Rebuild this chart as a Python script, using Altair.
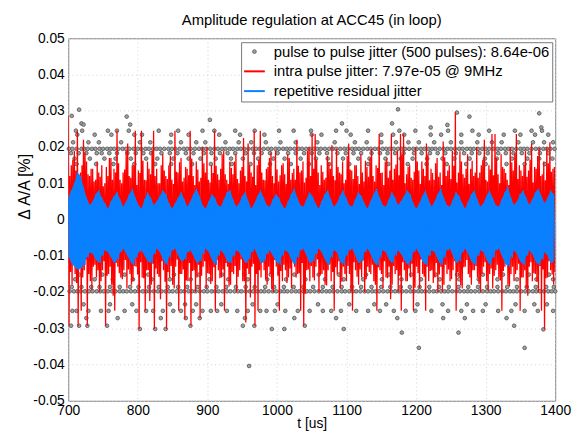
import altair as alt
import numpy as np
import pandas as pd

TITLE = "Amplitude regulation at ACC45 (in loop)"
S_PULSE = "pulse to pulse jitter (500 pulses): 8.64e-06"
S_INTRA = "intra pulse jitter: 7.97e-05 @ 9MHz"
S_REP = "repetitive residual jitter"
SERIES = [S_PULSE, S_INTRA, S_REP]
COLORS = ["#505050", "#ff0000", "#0a80ff"]
SHAPES = ["circle", "stroke", "stroke"]
SIZES = [14, 441, 441]
WIDTHS = [0.8, 2, 2]

x_ticks = [700, 800, 900, 1000, 1100, 1200, 1300, 1400]
y_ticks = [-0.05, -0.04, -0.03, -0.02, -0.01, 0, 0.01, 0.02, 0.03, 0.04, 0.05]

# intra pulse jitter: alternating upper / lower excursions (in %), two interleaved sample sets
red_hi = [
    0.0286, 0.0150, 0.0190, 0.0245, 0.0130, 0.0220, 0.0160, 0.0120, 0.0140, 0.0110,
    0.0130, 0.0150, 0.0100, 0.0120, 0.0170, 0.0140, 0.0245, 0.0110, 0.0130, 0.0190,
    0.0120, 0.0150, 0.0245, 0.0135, 0.0245, 0.0110, 0.0160, 0.0125, 0.0245, 0.0140,
    0.0100, 0.0180, 0.0120, 0.0150, 0.0110, 0.0245, 0.0130, 0.0170, 0.0115, 0.0140,
    0.0245, 0.0120, 0.0160, 0.0105, 0.0200, 0.0130, 0.0110, 0.0150, 0.0245, 0.0125,
    0.0140, 0.0190, 0.0110, 0.0160, 0.0125, 0.0180, 0.0100, 0.0145, 0.0120, 0.0210,
    0.0130, 0.0245, 0.0150, 0.0245, 0.0110, 0.0140, 0.0170, 0.0120, 0.0190, 0.0105,
    0.0150, 0.0125, 0.0180, 0.0110, 0.0140, 0.0220, 0.0130, 0.0160, 0.0115, 0.0200,
    0.0236, 0.0236, 0.0130, 0.0150, 0.0110, 0.0175, 0.0140, 0.0120, 0.0195, 0.0130,
    0.0160, 0.0110, 0.0210, 0.0135, 0.0150, 0.0120, 0.0180, 0.0105, 0.0145, 0.0170,
    0.0120, 0.0150, 0.0236, 0.0130, 0.0160, 0.0115, 0.0236, 0.0140, 0.0190, 0.0236,
    0.0236, 0.0125, 0.0150, 0.0110, 0.0200, 0.0135, 0.0160, 0.0120, 0.0180, 0.0140,
    0.0110, 0.0170, 0.0130, 0.0215, 0.0120, 0.0150, 0.0190, 0.0295, 0.0130, 0.0160,
    0.0115, 0.0180, 0.0140, 0.0120, 0.0200, 0.0130, 0.0165, 0.0110, 0.0150, 0.0236,
    0.0236, 0.0125, 0.0180, 0.0140, 0.0110, 0.0200, 0.0135, 0.0236, 0.0150, 0.0120,
    0.0190, 0.0135, 0.0210, 0.0145, 0.0175, 0.0120, 0.0160, 0.0200, 0.0213, 0.0140,
]
red_lo = [
    -0.0293, -0.0180, -0.0150, -0.0293, -0.0252, -0.0140, -0.0293, -0.0170, -0.0130, -0.0160,
    -0.0200, -0.0140, -0.0293, -0.0150, -0.0180, -0.0252, -0.0130, -0.0160, -0.0140, -0.0190,
    -0.0150, -0.0170, -0.0130, -0.0302, -0.0160, -0.0252, -0.0140, -0.0180, -0.0302, -0.0150,
    -0.0220, -0.0140, -0.0302, -0.0160, -0.0180, -0.0130, -0.0252, -0.0150, -0.0275, -0.0170,
    -0.0293, -0.0140, -0.0160, -0.0272, -0.0130, -0.0190, -0.0150, -0.0170, -0.0252, -0.0140,
    -0.0160, -0.0252, -0.0130, -0.0180, -0.0150, -0.0200, -0.0140, -0.0170, -0.0284, -0.0150,
    -0.0130, -0.0293, -0.0252, -0.0160, -0.0140, -0.0180, -0.0150, -0.0200, -0.0130, -0.0252,
    -0.0170, -0.0140, -0.0160, -0.0190, -0.0130, -0.0150, -0.0252, -0.0293, -0.0140, -0.0170,
    -0.0160, -0.0130, -0.0200, -0.0150, -0.0180, -0.0140, -0.0170, -0.0252, -0.0150, -0.0190,
    -0.0130, -0.0170, -0.0150, -0.0252, -0.0140, -0.0180, -0.0160, -0.0200, -0.0130, -0.0150,
    -0.0170, -0.0252, -0.0140, -0.0190, -0.0160, -0.0130, -0.0180, -0.0150, -0.0200, -0.0252,
    -0.0140, -0.0170, -0.0160, -0.0252, -0.0130, -0.0190, -0.0150, -0.0252, -0.0170, -0.0140,
    -0.0160, -0.0200, -0.0130, -0.0180, -0.0150, -0.0170, -0.0140, -0.0252, -0.0160, -0.0190,
    -0.0130, -0.0150, -0.0180, -0.0140, -0.0160, -0.0200, -0.0130, -0.0170, -0.0150, -0.0190,
    -0.0140, -0.0160, -0.0252, -0.0130, -0.0180, -0.0150, -0.0170, -0.0140, -0.0252, -0.0160,
    -0.0190, -0.0130, -0.0170, -0.0150, -0.0200, -0.0252, -0.0303, -0.0160, -0.0140, -0.0180,
]
red2_hi = [
    0.0120, 0.0165, 0.0135, 0.0098, 0.0150, 0.0185, 0.0125, 0.0140, 0.0105, 0.0160,
    0.0118, 0.0092, 0.0145, 0.0170, 0.0110, 0.0130, 0.0155, 0.0100, 0.0138, 0.0210,
    0.0115, 0.0148, 0.0095, 0.0128, 0.0162, 0.0108, 0.0140, 0.0190, 0.0120, 0.0100,
    0.0150, 0.0135, 0.0112, 0.0175, 0.0098, 0.0132, 0.0158, 0.0105, 0.0145, 0.0122,
    0.0168, 0.0095, 0.0138, 0.0115, 0.0155, 0.0200, 0.0102, 0.0128, 0.0148, 0.0110,
    0.0180, 0.0125, 0.0098, 0.0142, 0.0160, 0.0112, 0.0135, 0.0225, 0.0105, 0.0150,
    0.0118, 0.0095, 0.0165, 0.0130, 0.0108, 0.0145, 0.0185, 0.0100, 0.0138, 0.0122,
    0.0155, 0.0098, 0.0170, 0.0128, 0.0110, 0.0148, 0.0135, 0.0102, 0.0190, 0.0120,
    0.0140, 0.0165, 0.0095, 0.0132, 0.0115, 0.0158, 0.0205, 0.0108, 0.0145, 0.0125,
    0.0100, 0.0175, 0.0138, 0.0112, 0.0150, 0.0098, 0.0130, 0.0162, 0.0118, 0.0195,
    0.0105, 0.0142, 0.0128, 0.0095, 0.0168, 0.0135, 0.0110, 0.0152, 0.0122, 0.0180,
    0.0100, 0.0145, 0.0115, 0.0132, 0.0160, 0.0098, 0.0140, 0.0210, 0.0108, 0.0128,
    0.0155, 0.0118, 0.0095, 0.0172, 0.0135, 0.0112, 0.0148, 0.0102, 0.0188, 0.0125,
    0.0140, 0.0098, 0.0162, 0.0130, 0.0115, 0.0150, 0.0220, 0.0105, 0.0138, 0.0122,
    0.0170, 0.0100, 0.0145, 0.0128, 0.0095, 0.0158, 0.0182, 0.0112, 0.0135, 0.0150,
    0.0118, 0.0165, 0.0102, 0.0140, 0.0198, 0.0125, 0.0108, 0.0155, 0.0132, 0.0145,
]
red2_lo = [
    -0.0145, -0.0118, -0.0175, -0.0132, -0.0160, -0.0110, -0.0150, -0.0195, -0.0125, -0.0140,
    -0.0170, -0.0115, -0.0155, -0.0130, -0.0210, -0.0120, -0.0148, -0.0165, -0.0112, -0.0138,
    -0.0180, -0.0128, -0.0152, -0.0118, -0.0162, -0.0140, -0.0225, -0.0122, -0.0135, -0.0158,
    -0.0115, -0.0172, -0.0145, -0.0128, -0.0190, -0.0110, -0.0150, -0.0138, -0.0168, -0.0120,
    -0.0142, -0.0200, -0.0125, -0.0155, -0.0115, -0.0148, -0.0178, -0.0132, -0.0112, -0.0162,
    -0.0138, -0.0120, -0.0185, -0.0145, -0.0128, -0.0158, -0.0110, -0.0170, -0.0135, -0.0215,
    -0.0122, -0.0150, -0.0140, -0.0118, -0.0165, -0.0130, -0.0192, -0.0112, -0.0155, -0.0142,
    -0.0125, -0.0175, -0.0135, -0.0115, -0.0160, -0.0148, -0.0120, -0.0205, -0.0138, -0.0128,
    -0.0168, -0.0110, -0.0152, -0.0140, -0.0182, -0.0122, -0.0145, -0.0132, -0.0115, -0.0172,
    -0.0150, -0.0128, -0.0198, -0.0118, -0.0158, -0.0138, -0.0112, -0.0165, -0.0145, -0.0125,
    -0.0180, -0.0132, -0.0150, -0.0115, -0.0162, -0.0220, -0.0128, -0.0140, -0.0155, -0.0118,
    -0.0170, -0.0135, -0.0122, -0.0188, -0.0148, -0.0110, -0.0158, -0.0130, -0.0142, -0.0175,
    -0.0120, -0.0152, -0.0200, -0.0125, -0.0138, -0.0165, -0.0115, -0.0145, -0.0182, -0.0132,
    -0.0112, -0.0160, -0.0140, -0.0128, -0.0178, -0.0150, -0.0118, -0.0195, -0.0135, -0.0155,
    -0.0125, -0.0168, -0.0142, -0.0110, -0.0185, -0.0130, -0.0150, -0.0122, -0.0160, -0.0140,
    -0.0210, -0.0118, -0.0148, -0.0172, -0.0128, -0.0138, -0.0162, -0.0115, -0.0152, -0.0145,
]

# repetitive residual jitter: alternating upper / lower excursions (in %)
blue_hi = [
    0.0060, 0.0080, 0.0100, 0.0131, 0.0120, 0.0090, 0.0060, 0.0040, 0.0050, 0.0070,
    0.0080, 0.0060, 0.0045, 0.0030, 0.0050, 0.0065, 0.0075, 0.0055, 0.0035, 0.0050,
    0.0070, 0.0085, 0.0060, 0.0040, 0.0030, 0.0055, 0.0075, 0.0060, 0.0040, 0.0050,
    0.0065, 0.0080, 0.0070, 0.0045, 0.0030, 0.0045, 0.0060, 0.0075, 0.0055, 0.0035,
    0.0050, 0.0070, 0.0085, 0.0065, 0.0040, 0.0030, 0.0050, 0.0070, 0.0060, 0.0040,
    0.0035, 0.0055, 0.0075, 0.0080, 0.0055, 0.0035, 0.0045, 0.0065, 0.0075, 0.0050,
    0.0030, 0.0045, 0.0065, 0.0080, 0.0060, 0.0040, 0.0035, 0.0055, 0.0070, 0.0060,
    0.0040, 0.0030, 0.0050, 0.0070, 0.0085, 0.0060, 0.0040, 0.0035, 0.0055, 0.0075,
    0.0065, 0.0045, 0.0030, 0.0050, 0.0070, 0.0080, 0.0055, 0.0035, 0.0045, 0.0065,
    0.0080, 0.0060, 0.0040, 0.0035, 0.0055, 0.0075, 0.0065, 0.0045, 0.0030, 0.0050,
    0.0070, 0.0085, 0.0060, 0.0040, 0.0035, 0.0055, 0.0075, 0.0060, 0.0040, 0.0050,
    0.0065, 0.0080, 0.0070, 0.0045, 0.0030, 0.0045, 0.0065, 0.0080, 0.0055, 0.0035,
    0.0050, 0.0070, 0.0085, 0.0060, 0.0040, 0.0035, 0.0055, 0.0075, 0.0065, 0.0045,
    0.0030, 0.0050, 0.0070, 0.0080, 0.0055, 0.0035, 0.0045, 0.0065, 0.0080, 0.0060,
    0.0040, 0.0035, 0.0055, 0.0075, 0.0090, 0.0060, 0.0040, 0.0050, 0.0070, 0.0080,
    0.0060, 0.0040, 0.0055, 0.0075, 0.0085, 0.0065, 0.0045, 0.0060, 0.0080, 0.0070,
]
blue_lo = [
    -0.0100, -0.0120, -0.0130, -0.0138, -0.0135, -0.0125, -0.0105, -0.0090, -0.0095, -0.0110,
    -0.0120, -0.0100, -0.0085, -0.0090, -0.0105, -0.0120, -0.0110, -0.0090, -0.0080, -0.0095,
    -0.0110, -0.0125, -0.0105, -0.0090, -0.0085, -0.0100, -0.0115, -0.0120, -0.0095, -0.0080,
    -0.0090, -0.0110, -0.0125, -0.0105, -0.0085, -0.0080, -0.0100, -0.0115, -0.0110, -0.0090,
    -0.0085, -0.0100, -0.0120, -0.0115, -0.0095, -0.0080, -0.0090, -0.0110, -0.0125, -0.0100,
    -0.0085, -0.0095, -0.0115, -0.0120, -0.0100, -0.0085, -0.0090, -0.0105, -0.0120, -0.0110,
    -0.0090, -0.0080, -0.0100, -0.0120, -0.0115, -0.0095, -0.0085, -0.0100, -0.0115, -0.0125,
    -0.0100, -0.0085, -0.0090, -0.0110, -0.0125, -0.0105, -0.0085, -0.0080, -0.0100, -0.0120,
    -0.0115, -0.0095, -0.0080, -0.0090, -0.0110, -0.0125, -0.0105, -0.0085, -0.0090, -0.0115,
    -0.0125, -0.0100, -0.0085, -0.0080, -0.0100, -0.0120, -0.0115, -0.0090, -0.0080, -0.0095,
    -0.0115, -0.0126, -0.0105, -0.0085, -0.0090, -0.0110, -0.0120, -0.0100, -0.0085, -0.0095,
    -0.0110, -0.0125, -0.0115, -0.0090, -0.0080, -0.0095, -0.0115, -0.0125, -0.0100, -0.0085,
    -0.0090, -0.0110, -0.0125, -0.0105, -0.0085, -0.0080, -0.0100, -0.0120, -0.0115, -0.0090,
    -0.0080, -0.0095, -0.0115, -0.0125, -0.0100, -0.0085, -0.0090, -0.0110, -0.0125, -0.0105,
    -0.0085, -0.0080, -0.0100, -0.0120, -0.0130, -0.0105, -0.0085, -0.0095, -0.0115, -0.0125,
    -0.0100, -0.0085, -0.0095, -0.0115, -0.0125, -0.0110, -0.0090, -0.0100, -0.0120, -0.0115,
]

# pulse to pulse jitter: quantised levels (in %) and the times [us] of the dots on them
lvl_u195 = 0.0195
t_u195 = [701, 706, 712, 719, 723, 728, 734, 739, 745, 750, 756, 761, 766, 772, 778, 783, 788, 794,
          800, 805, 811, 816, 822, 827, 832, 838, 844, 849, 854, 860, 866, 871, 876, 882, 888, 893,
          898, 904, 910, 915, 921, 926, 932, 937, 943, 948, 953, 959, 965, 970, 975, 981, 987, 992,
          998, 1003, 1009, 1014, 1019, 1025, 1031, 1036, 1042, 1047, 1053, 1058, 1063, 1069, 1075,
          1080, 1085, 1091, 1097, 1102, 1108, 1113, 1118, 1124, 1130, 1135, 1141, 1146, 1152, 1157,
          1162, 1168, 1174, 1179, 1184, 1190, 1196, 1201, 1207, 1212, 1218, 1223, 1228, 1234, 1240,
          1245, 1250, 1256, 1262, 1267, 1273, 1278, 1283, 1289, 1295, 1300, 1305, 1311, 1317, 1322,
          1328, 1333, 1338, 1344, 1350, 1355, 1360, 1366, 1372, 1377, 1383, 1388, 1393, 1399]
lvl_u183 = 0.0183
t_u183 = [704, 715, 726, 741, 748, 759, 770, 785, 797, 808, 819, 834, 846, 857, 869, 880, 895, 906,
          918, 929, 940, 955, 967, 978, 990, 1001, 1016, 1027, 1039, 1050, 1061, 1072, 1087, 1099,
          1110, 1121, 1136, 1148, 1159, 1170, 1182, 1197, 1208, 1220, 1231, 1242, 1257, 1269, 1280,
          1291, 1303, 1318, 1329, 1340, 1352, 1363, 1378, 1390]
lvl_u168 = 0.0168
t_u168 = [709, 731, 752, 768, 790, 812, 828, 851, 873, 890, 912, 934, 951, 973, 995, 1011, 1034,
          1056, 1073, 1095, 1117, 1133, 1156, 1178, 1195, 1216, 1238, 1255, 1277, 1299, 1316, 1338,
          1360, 1377, 1396]
lvl_u153 = 0.0153
t_u153 = [712, 740, 765, 795, 825, 848, 878, 905, 935, 962, 990, 1020, 1046, 1075, 1104, 1131,
          1160, 1188, 1215, 1244, 1272, 1300, 1330, 1356, 1385]
lvl_u213 = 0.0213
t_u213 = [707, 729, 744, 776, 803, 818, 847, 862, 884, 897, 926, 945, 963, 984, 1005, 1027, 1058,
          1083, 1112, 1129, 1150, 1171, 1189, 1204, 1226, 1250, 1265, 1288, 1309, 1323, 1347, 1368,
          1384, 1397]
lvl_u234 = 0.0234
t_u234 = [713, 738, 762, 795, 806, 848, 873, 917, 947, 982, 1050, 1064, 1106, 1150, 1167, 1183,
          1221, 1236, 1265, 1290, 1326, 1350, 1371, 1390]
lvl_u245 = 0.0245
t_u245 = [711, 720, 757, 770, 787, 830, 858, 893, 910, 940, 968, 1003, 1024, 1049, 1085, 1100,
          1131, 1176, 1199, 1246, 1281, 1305, 1342, 1366, 1381]
lvl_l152 = -0.0152
t_l152 = [716, 749, 781, 815, 852, 888, 921, 953, 991, 1025, 1060, 1089, 1128, 1161, 1193, 1228,
          1259, 1296, 1325, 1362, 1391]
lvl_l165 = -0.0165
t_l165 = [710, 738, 764, 793, 820, 846, 876, 903, 930, 958, 986, 1013, 1041, 1069, 1096, 1124,
          1151, 1179, 1207, 1234, 1262, 1290, 1317, 1345, 1373, 1397]
lvl_l186 = -0.0186
t_l186 = [705, 719, 733, 745, 760, 774, 789, 801, 816, 830, 843, 858, 871, 886, 899, 913, 927, 941,
          955, 968, 983, 996, 1010, 1024, 1038, 1052, 1066, 1080, 1093, 1108, 1121, 1136, 1150, 1163,
          1178, 1191, 1205, 1219, 1233, 1247, 1261, 1275, 1289, 1302, 1317, 1331, 1345, 1359, 1372,
          1387, 1398]
lvl_l198 = -0.0198
t_l198 = [702, 708, 713, 718, 724, 730, 735, 741, 746, 751, 757, 763, 768, 774, 779, 784, 790, 796,
          801, 807, 812, 817, 823, 829, 834, 840, 845, 850, 856, 862, 867, 873, 878, 883, 889, 895,
          900, 906, 911, 916, 922, 928, 933, 939, 944, 949, 955, 961, 966, 972, 977, 982, 988, 994,
          999, 1005, 1010, 1015, 1021, 1027, 1032, 1038, 1043, 1048, 1054, 1060, 1065, 1071, 1076,
          1081, 1087, 1093, 1098, 1104, 1109, 1114, 1120, 1126, 1131, 1137, 1142, 1147, 1153, 1159,
          1164, 1170, 1175, 1180, 1186, 1192, 1197, 1203, 1208, 1213, 1219, 1225, 1230, 1236, 1241,
          1246, 1252, 1258, 1263, 1269, 1274, 1279, 1285, 1291, 1296, 1302, 1307, 1312, 1318, 1324,
          1329, 1335, 1340, 1345, 1351, 1357, 1362, 1368, 1373, 1378, 1384, 1390, 1395, 1400]
lvl_l234 = -0.0234
t_l234 = [722, 760, 792, 846, 868, 884, 920, 965, 1001, 1059, 1104, 1140, 1157, 1202, 1238, 1273,
          1300, 1343, 1370, 1388]
lvl_l252 = -0.0252
t_l252 = [706, 712, 729, 747, 758, 781, 798, 812, 822, 836, 851, 862, 879, 893, 905, 914, 928, 943,
          958, 976, 985, 997, 1012, 1030, 1047, 1066, 1078, 1092, 1114, 1131, 1148, 1168, 1185, 1199,
          1222, 1246, 1265, 1282, 1296, 1318, 1337, 1356, 1375, 1397]
lvl_l272 = -0.0272
t_l272 = [726, 771, 833, 869, 889, 954, 1025, 1085, 1173, 1239, 1270, 1330]
# isolated outliers
out_t = [715.6, 784, 903.6, 1174, 1258.7, 1276.7, 1377, 1093.5, 1165.5, 1245, 1221, 1380, 719, 705,
         722, 789, 704, 715.6, 727.5, 755.8, 803, 825, 840, 875.7, 951, 967.5, 992.6, 1010.6, 1040,
         1096, 1179.5, 1204, 1261, 1356, 1383, 960, 1341]
out_v = [0.0303, 0.0284, 0.0275, 0.0304, 0.0295, 0.0284, 0.0293, 0.0265, 0.0265, 0.0261, 0.0254,
         0.0254, 0.0265, 0.0286, 0.0262, 0.0262, -0.0293, -0.0293, -0.0293, -0.0293, -0.0302,
         -0.0302, -0.0302, -0.0293, -0.0293, -0.0293, -0.0302, -0.0302, -0.0293, -0.0302, -0.0312,
         -0.0354, -0.0312, -0.0354, -0.0303, -0.0404, -0.0293]

levels = [
    (lvl_u195, t_u195), (lvl_u183, t_u183), (lvl_u168, t_u168), (lvl_u153, t_u153),
    (lvl_u213, t_u213), (lvl_u234, t_u234), (lvl_u245, t_u245), (lvl_l152, t_l152),
    (lvl_l165, t_l165), (lvl_l186, t_l186), (lvl_l198, t_l198), (lvl_l234, t_l234),
    (lvl_l252, t_l252), (lvl_l272, t_l272),
]
g_t, g_v = [], []
for lv, ts in levels:
    g_t += list(ts)
    g_v += [lv] * len(ts)
g_t += out_t
g_v += out_v
df_gray = pd.DataFrame({"t": g_t, "v": g_v, "series": S_PULSE})

# red samples: set 1 and set 2 interleaved in time
red_vals = []
for a, b, c, d in zip(red_hi, red_lo, red2_hi, red2_lo):
    red_vals += [a, b, c, d]
df_red = pd.DataFrame({"t": np.linspace(700, 1400, len(red_vals)), "v": red_vals, "series": S_INTRA})

blue_vals = []
for a, b in zip(blue_hi, blue_lo):
    blue_vals += [a, b]
df_blue = pd.DataFrame({"t": np.linspace(700, 1400, len(blue_vals)), "v": blue_vals, "series": S_REP})
nb = min(len(blue_hi), len(blue_lo))
df_blue_band = pd.DataFrame({"t": np.linspace(700, 1400, 2 * nb)[0::2],
                             "hi": blue_hi[:nb], "lo": blue_lo[:nb]})

FONT = "Liberation Sans"

xscale = alt.Scale(domain=[700, 1400], nice=False, zero=False)
yscale = alt.Scale(domain=[-0.05, 0.05], nice=False)
xaxis = alt.Axis(values=x_ticks, title="t [us]", format="d", labelFlush=False,
                 labelOverlap=False, titleY=27, titleBaseline="alphabetic")
yaxis = alt.Axis(values=y_ticks, title="Δ A/A [%]", labelFlush=False, labelOverlap=False,
                 labelExpr="datum.value == 0 ? '0' : (datum.value < 0 ? '-' : '') + format(abs(datum.value), '.2f')",
                 titleX=-36, titleY=150, titleBaseline="bottom", titleFontSize=16)
xs = alt.X("t:Q", scale=xscale, axis=xaxis)
ys = alt.Y("v:Q", scale=yscale, axis=yaxis)

legend = alt.Legend(
    orient="none", legendX=175, legendY=4, title=None,
    labelFont=FONT, labelFontSize=15, labelColor="black", labelLimit=500,
    symbolSize=441, labelOffset=8, symbolOpacity=1,
    padding=2, rowPadding=0, strokeColor="#777777", fillColor="white",
)
color = alt.Color("series:N", scale=alt.Scale(domain=SERIES, range=COLORS), legend=legend)
shape = alt.Shape("series:N", scale=alt.Scale(domain=SERIES, range=SHAPES), legend=legend)
size = alt.Size("series:N", scale=alt.Scale(type="ordinal", domain=SERIES, range=SIZES), legend=legend)
swidth = alt.StrokeWidth("series:N", scale=alt.Scale(type="ordinal", domain=SERIES, range=WIDTHS), legend=legend)

gray = alt.Chart(df_gray).mark_point(
    filled=False, fill="#a0a0a0", opacity=1
).encode(x=xs, y=ys, color=color, shape=shape, size=size, strokeWidth=swidth)

blue_area = alt.Chart(df_blue_band).mark_area(color="#0a80ff", clip=True).encode(
    x=alt.X("t:Q", scale=xscale, axis=xaxis), y=alt.Y("lo:Q", scale=yscale, axis=yaxis), y2="hi:Q")

line_color = alt.Color("series:N", scale=alt.Scale(domain=SERIES, range=COLORS), legend=legend)
red = alt.Chart(df_red).mark_line(strokeWidth=1.3, clip=True).encode(
    x=xs, y=ys, color=line_color, order="t:Q")
blue = alt.Chart(df_blue).mark_line(strokeWidth=1.0, clip=True).encode(
    x=xs, y=ys, color=line_color, order="t:Q")

chart = alt.layer(gray, red, blue_area, blue).properties(
    width=493, height=367,
    title=alt.TitleParams(TITLE, font=FONT, fontSize=15, fontWeight="normal", color="black", offset=3),
    padding={"left": 61, "top": 28, "right": 17, "bottom": 30},
    autosize=alt.AutoSizeParams(type="none"),
).configure_view(stroke="#808080", strokeWidth=1).configure_axis(
    labelFont=FONT, labelFontSize=14, labelColor="black", titleFont=FONT, titleFontSize=14,
    titleFontWeight="normal", titleColor="black", grid=True, gridColor="#d0d0d0", gridDash=[1, 3],
    ticks=False, domain=False, labelPadding=3,
).configure_axisY(labelPadding=4)

chart.save("out.html", embed_options={"renderer": "svg", "actions": False})
